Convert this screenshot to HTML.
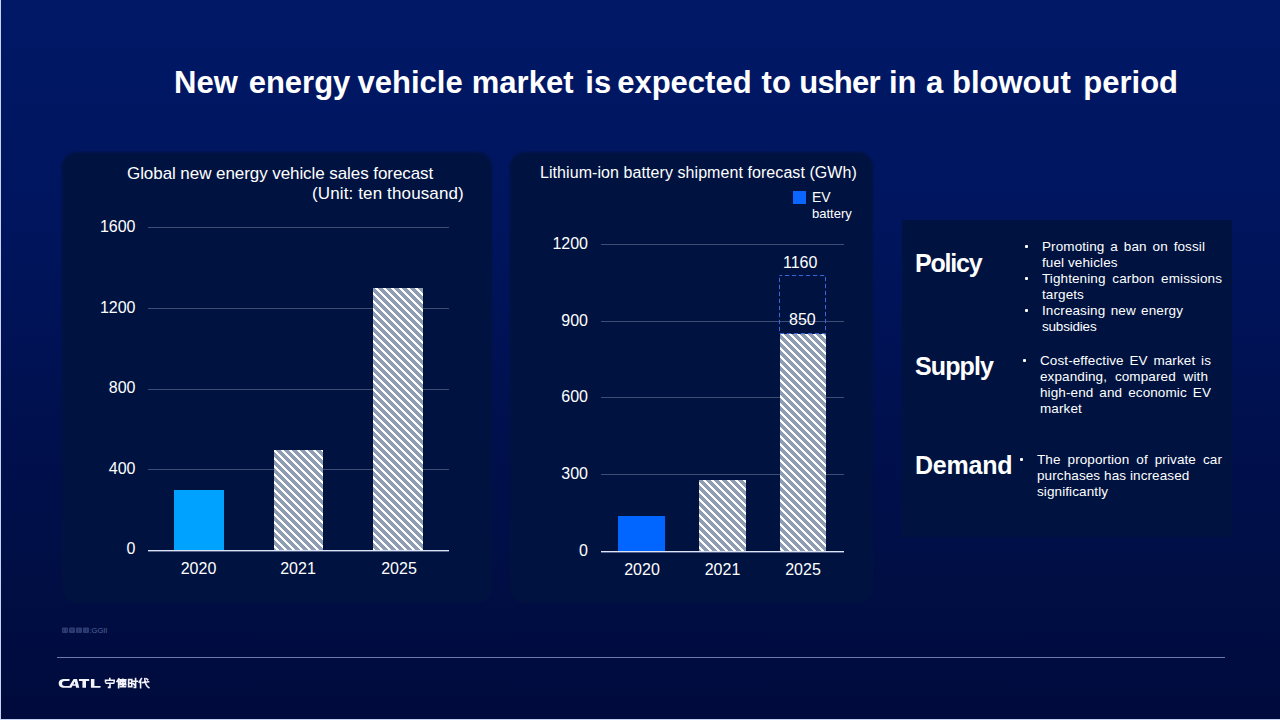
<!DOCTYPE html>
<html><head><meta charset="utf-8">
<style>
html,body{margin:0;padding:0;}
body{width:1280px;height:720px;overflow:hidden;position:relative;font-family:"Liberation Sans",sans-serif;color:#fff;
background:linear-gradient(180deg,#001866 0%,#00155e 30%,#00104e 60%,#000f47 75%,#000a3c 100%);}
.a{position:absolute;white-space:nowrap;line-height:1;}
.ttl span{position:absolute;top:67px;font-size:31px;font-weight:bold;line-height:1;white-space:nowrap;}
.panel{position:absolute;background:#001340;border-radius:15px;filter:blur(0.8px);}
.g{position:absolute;height:1px;background:#3d4d73;}
.ax{position:absolute;height:1px;background:#dde4f5;box-shadow:0 1px 0 rgba(190,200,235,0.45);}
.lab{position:absolute;font-size:16px;line-height:16px;color:#fff;text-align:right;width:50px;}
.yr{position:absolute;font-size:16px;line-height:16px;color:#fff;text-align:center;width:60px;}
.ln{position:absolute;font-size:13.5px;line-height:13px;color:#fff;letter-spacing:0.1px;white-space:nowrap;text-align:justify;text-align-last:justify;}
.ln1{position:absolute;font-size:13.5px;line-height:13px;color:#fff;letter-spacing:0.1px;white-space:nowrap;}
.dot{position:absolute;width:3px;height:3px;background:#fff;border-radius:1px;}
.hd{position:absolute;font-size:25px;line-height:25px;font-weight:bold;color:#fff;}
</style></head>
<body>

<!-- left light edge & bottom edge -->
<div style="position:absolute;left:0;top:0;width:1px;height:720px;background:#c8d2f5"></div>
<div style="position:absolute;left:0;top:719px;width:1280px;height:1px;background:#c8d2f5"></div>

<!-- Title -->
<div class="ttl"><span style="left:174.0px">New</span><span style="left:248.7px">energy</span><span style="left:357.6px">vehicle</span><span style="left:471.8px">market</span><span style="left:585.3px">is</span><span style="left:617.2px">expected</span><span style="left:761.6px">to</span><span style="left:799.3px;letter-spacing:-0.8px">usher</span><span style="left:889.0px">in</span><span style="left:925.9px">a</span><span style="left:952.0px">blowout</span><span style="left:1083.3px">period</span></div>

<!-- Panels -->
<div class="panel" style="left:62px;top:152px;width:430px;height:451px;"></div>
<div class="panel" style="left:510px;top:152px;width:363px;height:451px;"></div>

<!-- Panel 1 text -->
<div class="a" style="left:127px;top:164.6px;font-size:17px;letter-spacing:-0.07px;">Global new energy vehicle sales forecast</div>
<div class="a" style="left:312px;top:184.6px;font-size:17px;letter-spacing:0.13px;">(Unit: ten thousand)</div>

<div class="g" style="left:148px;top:227px;width:301px;"></div>
<div class="g" style="left:148px;top:308px;width:301px;"></div>
<div class="g" style="left:148px;top:389px;width:301px;"></div>
<div class="g" style="left:148px;top:469px;width:301px;"></div>
<div class="lab" style="left:85.5px;top:218.5px;">1600</div>
<div class="lab" style="left:85.5px;top:299.5px;">1200</div>
<div class="lab" style="left:85.5px;top:380px;">800</div>
<div class="lab" style="left:85.5px;top:460.5px;">400</div>
<div class="lab" style="left:85.5px;top:541px;">0</div>
<div class="yr" style="left:168.5px;top:560.5px;">2020</div>
<div class="yr" style="left:268px;top:560.5px;">2021</div>
<div class="yr" style="left:369px;top:560.5px;">2025</div>

<!-- Panel 2 text -->
<div class="a" style="left:540px;top:165px;font-size:16px;letter-spacing:0.07px;">Lithium-ion battery shipment forecast (GWh)</div>
<div style="position:absolute;left:793px;top:191px;width:13px;height:13px;background:#0a66ff"></div>
<div class="a" style="left:812px;top:190px;font-size:14px;">EV</div>
<div class="a" style="left:812px;top:207px;font-size:13px;">battery</div>

<div class="g" style="left:601px;top:244px;width:243px;"></div>
<div class="g" style="left:601px;top:321px;width:243px;"></div>
<div class="g" style="left:601px;top:397px;width:243px;"></div>
<div class="g" style="left:601px;top:474px;width:243px;"></div>
<div class="lab" style="left:538px;top:235.5px;">1200</div>
<div class="lab" style="left:538px;top:312.5px;">900</div>
<div class="lab" style="left:538px;top:389px;">600</div>
<div class="lab" style="left:538px;top:466px;">300</div>
<div class="lab" style="left:538px;top:542.5px;">0</div>
<div class="yr" style="left:612px;top:561.5px;">2020</div>
<div class="yr" style="left:692.5px;top:561.5px;">2021</div>
<div class="yr" style="left:773px;top:561.5px;">2025</div>

<!-- bars & charts overlay -->
<svg style="position:absolute;left:0;top:0" width="1280" height="720" shape-rendering="crispEdges">
<defs>
<pattern id="hatch" x="0" y="0" width="8" height="8" patternUnits="userSpaceOnUse">
<rect width="8" height="8" fill="#8e9cb4"/>
<path fill="#ffffff" d="M0 0h2v1H0z M7 0h1v1H7z M0 1h3v1H0z M1 2h3v1H1z M2 3h3v1H2z M3 4h3v1H3z M4 5h3v1H4z M5 6h3v1H5z M6 7h2v1H6z M0 7h1v1H0z"/>
</pattern>
</defs>
<rect x="174" y="490" width="50" height="60" fill="#00a2ff"/>
<rect x="274" y="450" width="49" height="100" fill="url(#hatch)"/>
<rect x="373" y="288" width="50" height="262" fill="url(#hatch)"/>
<rect x="618" y="516" width="47" height="35" fill="#0066ff"/>
<rect x="699" y="480" width="47" height="71" fill="url(#hatch)"/>
<rect x="780" y="334" width="46" height="217" fill="url(#hatch)"/>
<rect x="779.5" y="275.5" width="46" height="58" fill="none" stroke="#3868dc" stroke-width="1" stroke-dasharray="4.3,2.7" stroke-dashoffset="1.6" shape-rendering="auto"/>
</svg>
<div class="ax" style="left:148px;top:550px;width:301px;"></div>
<div class="ax" style="left:601px;top:551px;width:243px;"></div>
<div class="a" style="left:783px;top:255px;font-size:16px;">1160</div>
<div class="a" style="left:789px;top:312px;font-size:16px;">850</div>

<!-- Right box -->
<div style="position:absolute;left:902px;top:220px;width:330px;height:317px;background:#001340;"></div>
<div class="hd" style="left:915px;top:251px;letter-spacing:-1.2px;">Policy</div>
<div class="hd" style="left:915px;top:353.5px;letter-spacing:-0.9px;">Supply</div>
<div class="hd" style="left:915px;top:453px;letter-spacing:-0.2px;">Demand</div>

<div class="dot" style="left:1025px;top:245px;"></div>
<div class="ln" style="left:1042px;top:240px;width:163px;">Promoting a ban on fossil</div>
<div class="ln" style="left:1042px;top:256px;width:75px;">fuel vehicles</div>
<div class="dot" style="left:1025px;top:277px;"></div>
<div class="ln" style="left:1042px;top:272px;width:180px;">Tightening carbon emissions</div>
<div class="ln1" style="left:1042px;top:288px;">targets</div>
<div class="dot" style="left:1025px;top:309px;"></div>
<div class="ln" style="left:1042px;top:304px;width:141px;">Increasing new energy</div>
<div class="ln1" style="left:1042px;top:320px;letter-spacing:-0.2px;">subsidies</div>

<div class="dot" style="left:1023px;top:359px;"></div>
<div class="ln" style="left:1040px;top:354px;width:171px;">Cost-effective EV market is</div>
<div class="ln" style="left:1040px;top:370px;width:168px;">expanding, compared with</div>
<div class="ln" style="left:1040px;top:386px;width:171px;">high-end and economic EV</div>
<div class="ln1" style="left:1040px;top:402px;">market</div>

<div class="dot" style="left:1020px;top:458px;"></div>
<div class="ln" style="left:1037px;top:453px;width:185px;">The proportion of private car</div>
<div class="ln" style="left:1037px;top:469px;width:150px;">purchases has increased</div>
<div class="ln1" style="left:1037px;top:485px;">significantly</div>

<!-- footer -->
<svg style="position:absolute;left:0;top:0" width="1280" height="720">
<g fill="#4b5b92" opacity="0.6">
<rect x="62" y="627.5" width="6" height="5.5" rx="1"/>
<rect x="69" y="627.5" width="6" height="5.5" rx="1"/>
<rect x="76" y="627.5" width="6" height="5.5" rx="1"/>
<rect x="83" y="627.5" width="6" height="5.5" rx="1"/>
</g>
<g fill="#1a2a6a"><rect x="63" y="629" width="1" height="3"/><rect x="66" y="628.5" width="1" height="3"/><rect x="71" y="629" width="2" height="2"/><rect x="78" y="628.5" width="1" height="4"/><rect x="86" y="629" width="1" height="3"/></g>
<text x="89.5" y="633" font-family="Liberation Sans" font-size="7.5" fill="#55649a">:GGII</text>
</svg>
<div style="position:absolute;left:57px;top:657px;width:1168px;height:1px;background:#6a78aa"></div>
<svg style="position:absolute;left:0;top:0" width="1280" height="720">
<g fill="#f2f3fb">
<!-- C -->
<path d="M69.6,679 L64.2,679 C60.2,679 58.7,681.2 58.7,683.4 C58.7,685.7 60.4,687.8 64.4,687.8 L69.4,687.8 L69.6,685.9 L64.8,685.9 C62.8,685.9 62.1,684.7 62.1,683.4 C62.1,682.1 62.8,680.9 64.8,680.9 L69.4,680.9 Z"/>
<!-- A -->
<path d="M68.3,687.8 L73.6,679 L77,679 L79.3,687.8 L76.1,687.8 L75.6,685.7 L72.5,685.7 L71.4,687.8 Z M73.4,684.2 L75.3,684.2 L74.8,681.6 Z"/>
<!-- T -->
<path d="M78.9,679 L89.2,679 L89.2,680.9 L86,680.9 L86,687.8 L82.4,687.8 L82.4,680.9 L78.9,680.9 Z"/>
<!-- L -->
<path d="M90.9,679 L94.4,679 L94.4,685.9 L100.7,685.9 L100.3,687.8 L90.9,687.8 Z"/>
</g>
<g stroke="#f2f3fb" stroke-width="1.6" fill="none" stroke-linecap="square">
<!-- 宁 -->
<path d="M109.8,678.6 L109.8,679.6 M105.5,681.8 L105.5,680.3 L114.2,680.3 L114.2,681.8 M106.3,683.2 L113.6,683.2 M110,683.2 L110,687.4 L108.6,687.4"/>
<!-- 德 -->
<path d="M118.8,678.8 L117,681.5 M118.6,681.2 L118.6,687.7 M120,679.8 L125.8,679.8 M120.3,681.3 L125.5,681.3 L125.5,683.3 L120.3,683.3 Z M122.9,679.3 L122.9,683.3 M120,684.7 L125.8,684.7 M120.5,686.8 L125.5,686.8 M122.8,685.5 L123.3,686.3"/>
<!-- 时 -->
<path d="M128.6,679.6 L131.8,679.6 L131.8,686.6 L128.6,686.6 Z M128.6,683.1 L131.8,683.1 M132.9,681.3 L137.4,681.3 M135.6,678.6 L135.6,687.4 L134.3,687.4 M133.4,683.6 L134.4,684.9"/>
<!-- 代 -->
<path d="M141.4,678.6 L139.2,682.2 M140.6,681.2 L140.6,687.8 M142.6,682.6 L148.6,681.8 M144.8,678.7 C145,683 146,686 148.8,687.6 M146.7,678.8 L147.7,679.8"/>
</g>
</svg>
</body></html>
